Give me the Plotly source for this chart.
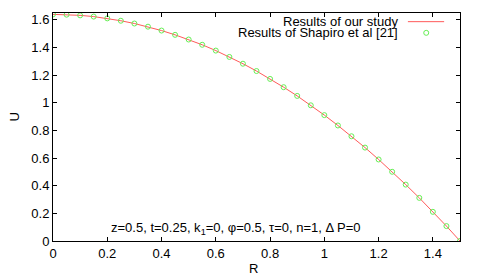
import plotly.graph_objects as go

R_vals = [0.00, 0.05, 0.10, 0.15, 0.20, 0.25, 0.30, 0.35, 0.40, 0.45, 0.50,
          0.55, 0.60, 0.65, 0.70, 0.75, 0.80, 0.85, 0.90, 0.95, 1.00,
          1.05, 1.10, 1.15, 1.20, 1.25, 1.30, 1.35, 1.40, 1.45, 1.50]
U_study = [1.640, 1.638, 1.633, 1.624, 1.611, 1.594, 1.574, 1.551, 1.523, 1.492, 1.458,
           1.420, 1.378, 1.332, 1.283, 1.230, 1.173, 1.113, 1.050, 0.982, 0.911,
           0.836, 0.758, 0.676, 0.590, 0.501, 0.408, 0.312, 0.211, 0.108, 0.000]
U_shapiro = [1.640, 1.638, 1.633, 1.624, 1.611, 1.594, 1.574, 1.551, 1.523, 1.492, 1.458,
             1.420, 1.378, 1.332, 1.283, 1.230, 1.173, 1.113, 1.050, 0.982, 0.911,
             0.836, 0.758, 0.676, 0.590, 0.501, 0.408, 0.312, 0.211, 0.108, 0.000]
x_ticks = [0, 0.2, 0.4, 0.6, 0.8, 1, 1.2, 1.4]
y_ticks = [0, 0.2, 0.4, 0.6, 0.8, 1, 1.2, 1.4, 1.6]

FONT = "Liberation Sans, Arial, sans-serif"
FS = 13
RED = "#ff5a5a"
GREEN = "#66ee55"

fig = go.Figure()
fig.add_trace(go.Scatter(x=R_vals, y=U_study, mode="lines",
                         line=dict(color=RED, width=1), name="Results of our study",
                         showlegend=False))
fig.add_trace(go.Scatter(x=R_vals, y=U_shapiro, mode="markers",
                         marker=dict(symbol="circle-open", color=GREEN, size=5,
                                     line=dict(width=1, color=GREEN)),
                         name="Results of Shapiro et al [21]", showlegend=False))

axis_common = dict(showgrid=False, zeroline=False, showline=True, linecolor="black",
                   linewidth=1, mirror="ticks", ticks="inside", ticklen=4,
                   tickcolor="black", automargin=False,
                   tickfont=dict(family=FONT, size=FS, color="black"))
fig.update_xaxes(range=[0, 1.5], tickvals=x_ticks, ticktext=[str(v) for v in x_ticks],
                 **axis_common)
fig.update_yaxes(range=[0, 1.65], tickvals=y_ticks, ticktext=[str(v) for v in y_ticks],
                 **axis_common)

# axis titles
fig.add_annotation(xref="paper", yref="paper", x=-0.094, y=0.545, xanchor="center",
                   yanchor="middle", showarrow=False, text="U", textangle=-90,
                   font=dict(family=FONT, size=FS, color="black"))
fig.add_annotation(xref="paper", yref="paper", x=0.492, y=-0.119, xanchor="center",
                   yanchor="middle", showarrow=False, text="R",
                   font=dict(family=FONT, size=FS, color="black"))

# gnuplot-style key (text right-aligned, sample to the right)
fig.add_annotation(xref="paper", yref="paper", x=0.852, y=0.962, xanchor="right",
                   yanchor="middle", showarrow=False, text="Results of our study",
                   font=dict(family=FONT, size=FS, color="black"))
fig.add_annotation(xref="paper", yref="paper", x=0.852, y=0.913, xanchor="right",
                   yanchor="middle", showarrow=False, text="Results of Shapiro et al [21]",
                   font=dict(family=FONT, size=FS, color="black"))
fig.add_shape(type="line", xref="paper", yref="paper", x0=0.872, x1=0.961,
              y0=0.962, y1=0.962, line=dict(color=RED, width=1))
fig.add_trace(go.Scatter(x=[0.917], y=[0.913], xaxis="x2", yaxis="y2", mode="markers",
                         marker=dict(symbol="circle-open", color=GREEN, size=5,
                                     line=dict(width=1, color=GREEN)),
                         showlegend=False, hoverinfo="skip"))
fig.update_layout(xaxis2=dict(range=[0, 1], overlaying="x", visible=False),
                  yaxis2=dict(range=[0, 1], overlaying="y", visible=False))

fig.add_annotation(xref="paper", yref="paper", x=0.449, y=0.057, xanchor="center",
                   yanchor="middle", showarrow=False,
                   text="z=0.5, t=0.25, k<sub>1</sub>=0, φ=0.5, τ=0, n=1, Δ P=0",
                   font=dict(family=FONT, size=FS, color="black"))

# page body has an 8px default margin, so shrink the figure accordingly
fig.update_layout(width=477, height=269, margin=dict(l=45, r=25, t=5, b=36),
                  plot_bgcolor="white", paper_bgcolor="white",
                  font=dict(family=FONT, size=FS, color="black"), showlegend=False)

fig.write_html("out.html")
